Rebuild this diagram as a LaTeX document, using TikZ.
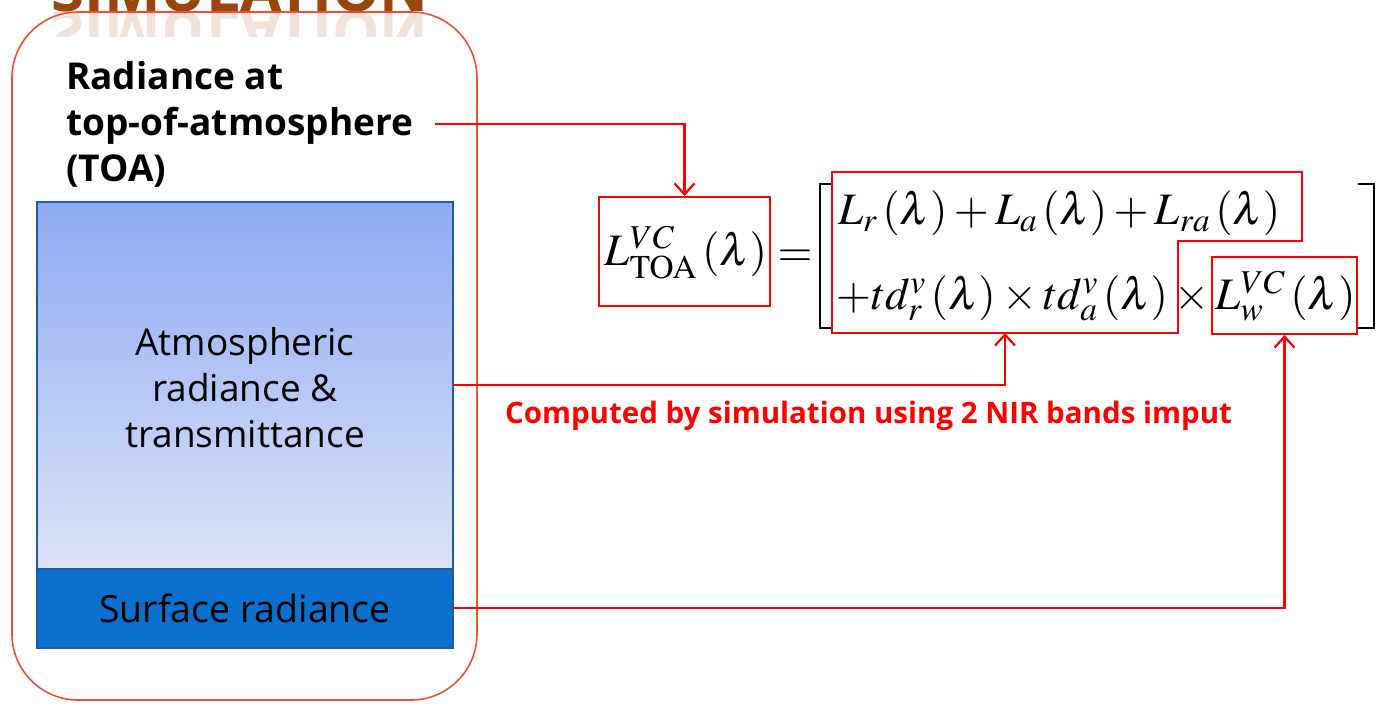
\documentclass[tikz,border=0pt]{standalone}
\usepackage{mathptmx}
\usepackage[no-math]{fontspec}
\setmainfont{Open Sans}
\usetikzlibrary{arrows.meta}
\definecolor{outerred}{HTML}{F0502A}
\definecolor{boxred}{HTML}{FF0000}
\definecolor{atmtop}{HTML}{8DABF2}
\definecolor{atmbot}{HTML}{DCE3F8}
\definecolor{surf}{HTML}{0B70CE}
\definecolor{edgeblue}{HTML}{1F5C9E}
\definecolor{brownt}{HTML}{9A4410}
\tikzset{
  redbox/.style={draw=boxred, line width=2pt, inner sep=0pt},
  conn/.style={draw=boxred, line width=2.2pt, -{Straight Barb[length=11pt,width=20pt,line width=2.2pt]}},
  bracket/.style={draw=black, line width=2pt},
  eqtext/.style={font=\fontsize{45}{48}\selectfont, inner sep=0pt},
}
\begin{document}
\begin{tikzpicture}[x=1pt,y=-1pt]
\useasboundingbox (0,0) rectangle (1384,704);
\begin{scope}
\clip (0,0) rectangle (1384,704);
% title (cut off at top)
\node[anchor=base, text=brownt, font=\fontsize{60}{60}\selectfont\bfseries, inner sep=0pt] (title) at (240,12) {SIMULATION};
\begin{scope}
\clip (0,12) rectangle (1384,36);
\node[anchor=base, text=brownt, opacity=0.15, font=\fontsize{60}{60}\selectfont\bfseries, inner sep=0pt, yscale=-1] (titlerefl) at (240,12) {SIMULATION};
\end{scope}
\end{scope}
% outer rounded box
\draw[outerred, line width=1.6pt, rounded corners=66pt] (12,12) rectangle (477,700);
% atmosphere box
\shade[top color=atmtop, bottom color=atmbot] (37,202) rectangle (453,569);
\draw[edgeblue, line width=1.5pt] (37,202) rectangle (453,569);
\node[align=center, font=\fontsize{37}{46}\selectfont, inner sep=0pt] (atm) at (245,388) {Atmospheric\\radiance \&\\transmittance};
\coordinate (atmE) at (453,385);
% surface box
\draw[edgeblue, line width=1.5pt, fill=surf] (37,569) rectangle (453,648);
\node[font=\fontsize{37.5}{40}\selectfont, inner sep=0pt] (surf) at (245,608) {Surface radiance};
\coordinate (surfE) at (453,608);
% TOA label
\node[anchor=north west, align=left, font=\fontsize{37}{46}\selectfont\bfseries, inner sep=0pt] (toa) at (66,61) {Radiance at\\top-of-atmosphere\\(TOA)};
\coordinate (toaE) at (435,124);
% formula
\node[redbox, minimum width=171pt, minimum height=109pt] (lhs) at (684.5,251.5) {};
\node[eqtext] (lhstext) at (686,253) {$L^{VC}_{\mathrm{TOA}}\,(\lambda)$};
\node[eqtext] (eq) at (795,258) {$=$};
\draw[bracket] (832,184) -- (820,184) -- (820,328) -- (832,328);
\draw[bracket] (1358,184) -- (1374,184) -- (1374,328) -- (1358,328);
\node[eqtext, anchor=west] (row1) at (838,213) {$L_r\,(\lambda)+L_a\,(\lambda)+L_{ra}\,(\lambda)$};
\node[eqtext, anchor=west] (row2) at (836,296) {$+td^{v}_{r}\,(\lambda)\times td^{v}_{a}\,(\lambda)\times L^{VC}_{w}\,(\lambda)$};
\draw[draw=boxred, line width=2pt] (832,172) -- (1302,172) -- (1302,241) -- (1178,241) -- (1178,333) -- (832,333) -- cycle;
\coordinate (atmterm) at (1005,333);
\node[redbox, minimum width=145pt, minimum height=77pt] (lw) at (1284.5,295.5) {};
% caption
\node[text=boxred, font=\fontsize{29.5}{32}\selectfont\bfseries, inner sep=0pt] (cap) at (868.5,416) {Computed by simulation using 2 NIR bands imput};
% connectors
\draw[conn] (toaE) -| (lhs.north);
\draw[conn] (atmE) -| (atmterm);
\draw[conn] (surfE) -| (lw.south);
\end{tikzpicture}
\end{document}
